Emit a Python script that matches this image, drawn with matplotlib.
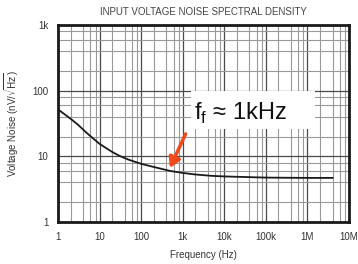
import matplotlib.pyplot as plt
from matplotlib.patches import Rectangle
from matplotlib.ticker import FixedLocator, NullFormatter

plt.rcParams['font.family'] = ['Liberation Sans', 'DejaVu Sans']
plt.rcParams['mathtext.fontset'] = 'custom'
plt.rcParams['mathtext.rm'] = 'Liberation Sans'

# data
freq = [1, 2, 3, 5, 10, 20, 30, 50, 100, 200, 500, 1e3, 2e3, 5e3, 1e4, 1e5, 1e6, 4e6]
noise = [52, 37.5, 30.5, 22.5, 15.5, 11.7, 10.2, 8.9, 7.7, 6.9, 6.0, 5.6, 5.3, 5.05, 4.95, 4.75, 4.7, 4.7]

xticks = [1, 10, 100, 1e3, 1e4, 1e5, 1e6, 1e7]
xlabels = ["1", "10", "100", "1k", "10k", "100k", "1M", "10M"]
yticks = [1, 10, 100, 1000]
ylabels = ["1", "10", "100", "1k"]

fig = plt.figure(figsize=(3.58, 2.64), dpi=100)
ax = fig.add_axes([0.162, 0.159, 0.813, 0.746])

ax.plot(freq, noise, color="#1a1a1a", lw=1.3, zorder=3)

ax.set_xscale("log")
ax.set_yscale("log")
ax.set_xlim(1, 1e7)
ax.set_ylim(1, 1000)

ax.set_xticks(xticks)
ax.set_xticklabels(xlabels)
ax.set_yticks(yticks)
ax.set_yticklabels(ylabels)
ax.xaxis.set_minor_locator(FixedLocator([m * 10**d for d in range(7) for m in (2, 4, 6, 8)]))
ax.yaxis.set_minor_locator(FixedLocator([m * 10**d for d in range(3) for m in (2, 4, 6, 8)]))
ax.xaxis.set_minor_formatter(NullFormatter())
ax.yaxis.set_minor_formatter(NullFormatter())

ax.grid(which="major", color="#4a4a4a", lw=0.9)
ax.grid(which="minor", color="#999999", lw=0.8)
ax.tick_params(which="both", length=0, labelsize=7, colors="#333333", pad=7)

for s in ax.spines.values():
    s.set_linewidth(2)
    s.set_color("#1a1a1a")

ax.set_title("INPUT VOLTAGE NOISE SPECTRAL DENSITY", fontsize=7, color="#444444", pad=7)
ax.set_xlabel("Frequency (Hz)", fontsize=7, color="#333333", labelpad=6)
ax.set_ylabel(r"Voltage Noise (nV/$\sqrt{\mathrm{Hz}}$)", fontsize=7, color="#333333",
              labelpad=8, math_fontfamily="dejavusans")

# annotation: white box, label and arrow
ax.add_patch(Rectangle((1550, 25.7), 1.55e6 - 1550, 98 - 25.7, fc="white", ec="none", zorder=4))
ax.text(1820, 36.5, "f$_\\mathrm{f}$ \u2248 1kHz", fontsize=17, color="#111111",
        ha="left", va="baseline", zorder=5)
ax.annotate("", xy=(460, 6.1), xytext=(1.25e3, 24),
            arrowprops=dict(arrowstyle="-|>,head_width=0.35,head_length=0.6",
                            color="#ee4a1a", lw=2.5), zorder=6)

fig.savefig("out.png", dpi=100)
